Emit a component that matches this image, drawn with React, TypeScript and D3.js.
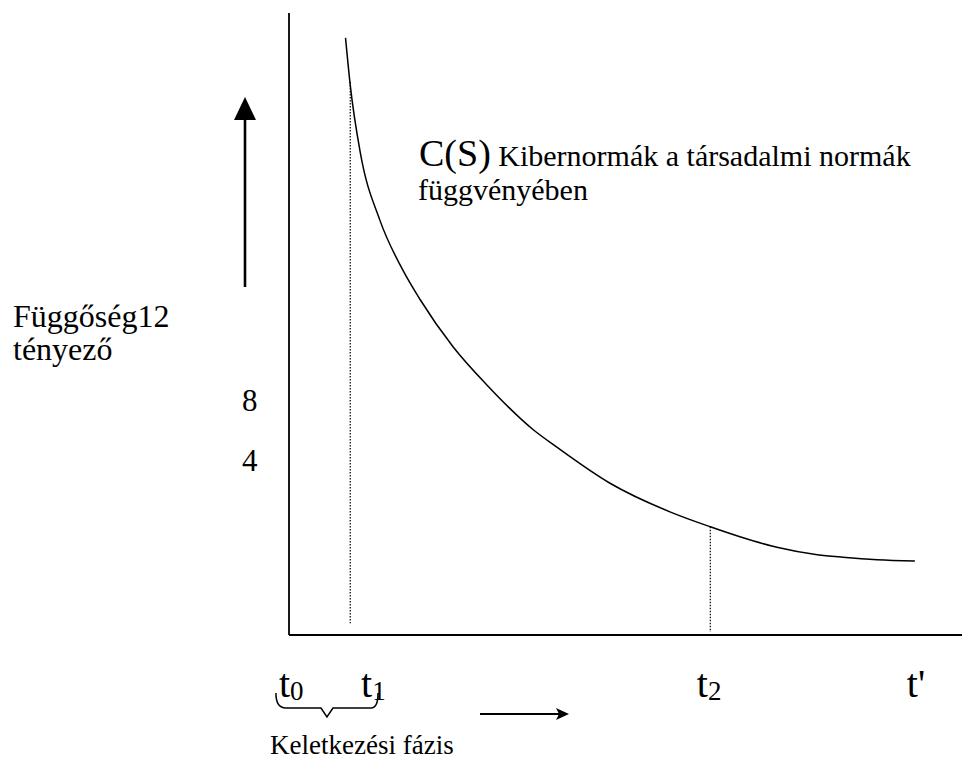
import React from "react";
import * as d3 from "d3";

const WIDTH = 962;
const HEIGHT = 761;
const SERIF = { fontFamily: "Liberation Serif" };

// curve C(S): time (0..100) vs dependency factor (0..100, schematic)
const curveT = [8.4, 9.1, 10.6, 13.5, 16.9, 19.5, 24.4, 29.4, 36.3, 39.8, 47.7, 56.6, 62.6, 67.0, 72.5, 78.5, 82.3, 87.4, 93.0];
const curveV = [96.0, 88.4, 77.5, 66.7, 58.7, 53.9, 46.3, 40.2, 33.0, 30.2, 24.4, 19.8, 17.4, 15.8, 14.1, 12.9, 12.5, 12.1, 11.9];

// dotted drop lines at t1 and t2
const dropT = [9.1, 62.6];
const dropTop = [88.9, 17.4];
const dropBottom = [1.9, 0.5];

// time labels under the x axis
const timeBase = ["t", "t", "t", "t'"];
const timeSub = ["0", "1", "2", ""];
const timeAt = [-1.5, 10.7, 60.6, 91.8];

const yTicks = ["8", "4"];

const yLabel = ["Függőség12", "tényező"];
const curveTitle = "C(S)";
const curveNote = ["Kibernormák a társadalmi normák", "függvényében"];
const phaseLabel = "Keletkezési fázis";

export default function App() {
  const x = d3.scaleLinear().domain([0, 100]).range([289, 962]);
  const y = d3.scaleLinear().domain([0, 100]).range([635, 13]);
  const tickY = d3.scalePoint<string>().domain(yTicks).range([411, 471]);

  const pts: [number, number][] = curveT.map((t, i) => [t, curveV[i]]);
  const line = d3
    .line<[number, number]>()
    .x((d) => x(d[0]))
    .y((d) => y(d[1]))
    .curve(d3.curveMonotoneX);

  // brace below t0 .. t1
  const bx0 = x(timeAt[0]) - 3;
  const bx1 = x(timeAt[1]) + 17;
  const bm = (bx0 + bx1) / 2;
  const by = 708;
  const brace =
    `M${bx0},${by - 15} Q${bx0},${by} ${bx0 + 10},${by} L${bm - 6},${by} ` +
    `L${bm},${by + 9} L${bm + 6},${by} L${bx1 - 7},${by} Q${bx1},${by} ${bx1},${by - 15}`;

  return (
    <svg width={WIDTH} height={HEIGHT} style={{ position: "absolute", left: 0, top: 0, background: "#fff" }}>
      {/* axes */}
      <line x1={x(0)} x2={x(0)} y1={y(100)} y2={y(0)} stroke="#000" strokeWidth={1.8} />
      <line x1={x(0)} x2={x(100)} y1={y(0)} y2={y(0)} stroke="#000" strokeWidth={1.8} />

      {/* drop lines */}
      {dropT.map((t, i) => (
        <line
          key={i}
          x1={x(t)}
          x2={x(t)}
          y1={y(dropTop[i])}
          y2={y(dropBottom[i])}
          stroke="#000"
          strokeWidth={1.2}
          strokeDasharray="1.5,1.5"
        />
      ))}

      {/* curve */}
      <path d={line(pts) || ""} fill="none" stroke="#000" strokeWidth={1.5} />

      {/* up arrow */}
      <line x1={245} x2={245} y1={287} y2={118} stroke="#000" strokeWidth={2.6} />
      <path d="M234,120 L245,97 L256,120 Z" fill="#000" />

      {/* right arrow */}
      <line x1={480} x2={560} y1={714} y2={714} stroke="#000" strokeWidth={2} />
      <path d="M556,708 L569,714 L556,720 L559,714 Z" fill="#000" />

      {/* y label */}
      <text x={13} y={327} fontSize={32} style={SERIF}>{yLabel[0]}</text>
      <text x={13} y={360} fontSize={32} style={SERIF}>{yLabel[1]}</text>

      {yTicks.map((t) => (
        <text key={t} x={242} y={tickY(t)} fontSize={31} style={SERIF}>{t}</text>
      ))}

      {/* curve annotation */}
      <text x={419} y={166} fontSize={38} style={SERIF}>
        {curveTitle}
        <tspan fontSize={30} style={SERIF}> {curveNote[0]}</tspan>
      </text>
      <text x={418} y={200} fontSize={30} style={SERIF}>{curveNote[1]}</text>

      {/* time labels */}
      {timeBase.map((b, i) => (
        <text key={i} x={x(timeAt[i])} y={697} fontSize={40} style={SERIF}>
          {b}
          {timeSub[i] && (
            <tspan fontSize={27} dy={3} style={SERIF}>{timeSub[i]}</tspan>
          )}
        </text>
      ))}

      <path d={brace} fill="none" stroke="#000" strokeWidth={1.5} />

      <text x={270} y={754} fontSize={27} style={SERIF}>{phaseLabel}</text>
    </svg>
  );
}
